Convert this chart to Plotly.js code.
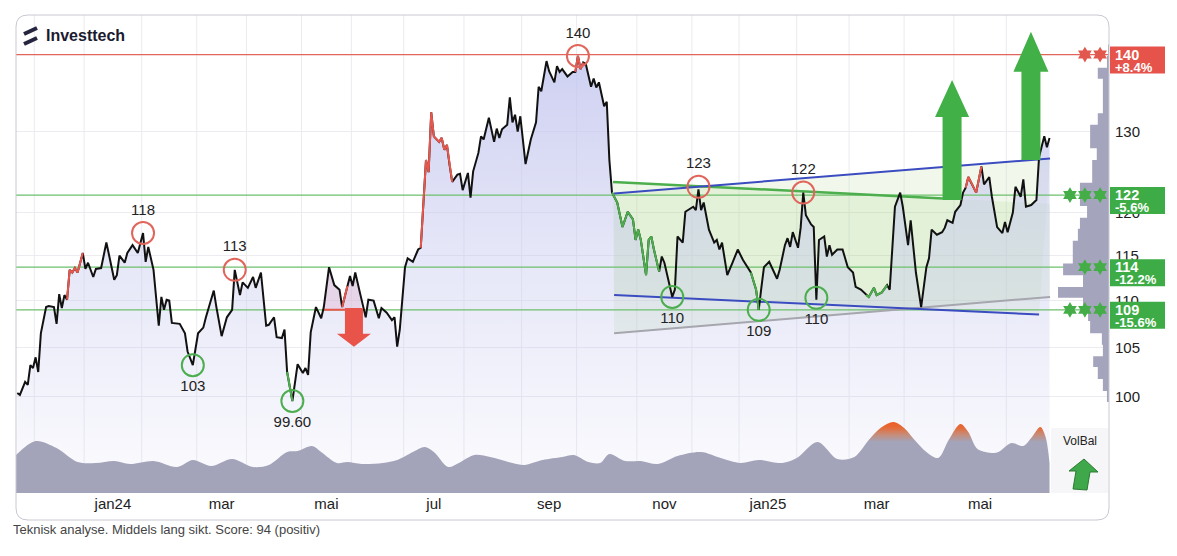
<!DOCTYPE html>
<html><head><meta charset="utf-8">
<script src="https://cdn.plot.ly/plotly-3.0.1.min.js"></script>
<style>html,body{margin:0;padding:0;background:#fff;}#chart{width:1177px;height:556px;}</style>
</head><body><div id="chart"></div>
<script>
// ---------- DATA (x = trading days since 30 Nov 2023) ----------
const priceDay = [
 -6,-5,-3,-2,-1,0,1,2,3,5, 6,8,9,10,11,12,13,14,15,16, 17,19,20,21,23,24,26,28,29,31,
 32,33,35,36,38,40,42,43,44,46, 48,49,50,51,52,53,56,58,59,61, 63,65,66,69,70,72,74,76,77,79,
 80,82,84,85,87,89,90,92,93,95, 96,97,99,100,101,103,104,105,106,108, 110,111,113,115,117,118,120,121,122,123,
 125,127,128,130,132,133,135,137,138,139, 140,142,143,145,147,148,150,151,152,153, 155,156,157,158,159,160,162,163,164,166,
 167,168,170,171,172,174,176,177,178,179, 181,182,183,184,185,186,188,190,192,193, 194,196,197,199,200,201,202,204,206,207,
 208,209,210,211,213,214,215,216,218,219, 220,221,223,225,227,229,230,231,232,234, 235,236,237,239,240,241,244,245,246,248,
 249,250,252,253,254,255,256,258,260,261, 262,263,265,267,269,271,274,276,277,278, 279,281,282,284,285,287,288,289,290,292,
 293,294,295,297,298,299,300,302,303,304, 305,307,309,311,313,314,316,318,319,321, 322,324,326,327,329,331,332,334,335,337,
 339,341,342,343,345,347,348,349,351,352, 354,355,356,357,358,360,362,363,365,366, 368,370,371,372,374,375,377,378,379,381,
 383,384,386,387,388];
const priceVal = [
 100.4,100.2,101.5,101.2,103.2,102.9,104.0,102.5,106.5,109.3, 109.4,109.3,107.5,110.7,109.2,110.6,110.1,113.4,113.1,113.6, 113.1,115.3,113.5,114.2,112.6,113.5,113.6,116.5,115.1,112.3,
 112.8,115.0,114.2,115.3,116.2,115.3,117.6,114.3,116.0,113.4, 107.3,110.4,109.0,110.1,110.0,107.6,107.5,106.5,104.6,103.2, 106.5,107.1,108.2,111.1,109.3,106.2,108.2,109.0,113.4,110.6,
 112.0,111.4,112.6,111.4,113.1,107.3,107.4,108.2,106.1,106.0, 106.9,102.5,99.6,101.5,103.3,102.4,102.9,102.2,106.6,109.3, 108.1,109.3,113.7,111.7,111.2,109.3,111.6,112.7,111.6,113.1,
 110.6,108.2,110.1,110.0,108.1,109.2,108.7,107.9,108.2,105.1, 106.9,113.7,114.7,114.3,115.7,115.9,126.4,124.9,132.5,129.4, 128.7,129.2,127.7,128.3,125.8,123.7,124.6,124.7,122.7,124.8,
 121.8,125.0,127.3,129.4,129.0,131.8,128.7,130.4,129.2,130.3, 130.9,134.5,131.2,132.2,130.0,132.0,125.9,129.0,131.2,135.9, 135.3,139.4,138.0,136.5,138.7,137.9,138.3,137.3,137.9,137.9,
 140.1,138.3,139.2,139.0,135.9,137.0,135.8,136.5,133.3,133.9, 126.4,122.4,121.2,118.3,120.1,119.2,116.8,118.0,116.8,112.8, 116.8,117.2,115.7,113.2,114.9,114.2,110.4,111.2,117.2,116.5,
 120.1,120.3,120.7,120.3,122.8,120.3,121.2,118.0,116.5,116.8, 115.7,116.5,112.8,114.2,115.7,114.5,113.1,111.2,109.0,111.4, 113.7,114.3,113.6,112.4,113.4,116.2,117.0,116.0,117.7,115.9,
 118.2,122.4,119.7,118.6,118.3,110.1,116.8,117.2,114.9,116.2, 115.1,115.7,115.7,113.7,113.1,111.5,111.2,110.6,110.4,111.4, 110.6,110.9,111.7,111.2,120.7,122.4,120.7,116.2,119.1,113.1,
 109.3,113.7,114.7,118.0,117.4,117.7,118.2,119.1,118.8,120.1, 120.9,122.4,123.0,124.3,123.7,122.4,125.6,123.4,124.3,121.9, 118.3,117.6,118.9,117.7,120.0,123.1,121.9,124.0,120.7,120.9,
 121.5,126.8,129.4,128.0,129.2];

// signal colouring of the price line (day ranges)
const redSegFrom = [13,118,148,207,356];
const redSegTo   = [19,120,160,210,362];
const greenSegFrom = [97,221,274,318];
const greenSegTo   = [99,239,277,326];

// tops and bottoms
const peakDay = [42,77,208,254,294];
const peakVal = [117.6,113.4,140.1,123.1,122.4];
const peakTxt = ['118','113','140','123','122'];
const troughDay = [61,99,244,277,299];
const troughVal = [103.2,99.6,110.4,109.0,110.3];
const troughTxt = ['103','99.60','110','109','110'];

// support / resistance
const levelVal = [140.3,122.1,113.7,109.0];
const levelTxt = ['140','122','114','109'];
const levelPct = ['+8.4%','-5.6%','-12.2%','-15.6%'];
const levelStars = [2,3,2,3];
const levelKind = ['res','sup','sup','sup'];

// trend lines [start, end]
const upperBlueDay = [221.8,388.2], upperBlueVal = [122.3,126.6];
const lowerBlueDay = [221.8,384.0], lowerBlueVal = [110.6,108.5];
const greenLineDay = [221.4,347.3], greenLineVal = [123.7,121.7];
const grayLineDay  = [221.8,388.2], grayLineVal  = [106.5,110.4];

// breakdown signal
const breakFrom = 110.7, breakTo = 125.6, breakLevel = 109.0;

// target arrows
const arrowDay  = [122.5,350.8,380.9];
const arrowFrom = [109.2,121.5,126.4];
const arrowTo   = [105.1,136.8,143.5];

// volume balance
const volDay = [-6.5,1,9,17,24,31,37,46,55,61, 68,76,84,90,97,101,106.5,110,116,120, 125.5,133.5,139,145,149.5,153,158.5,162.5,168.5,174.5,
 183,187.5,194.5,202,206.5,212,216.5,220,226,232, 238.5,246,255,262.5,270,277,286,291.5,299.5,307, 313.5,319,323.5,328.5,332.5,336.5,341,345.5,349.5,354,
 357,360.5,366.5,368.5,373.5,378,381,384.5,386.5,388];
const volVal = [38,52,45,31,30,32,29,32,26,33, 27,34,26,28,41,42,47,41,30,31, 29,30,33,41,46,41,26,30,38,36,
 30,28,33,36,38,31,30,39,32,32, 29,37,41,35,30,33,30,35,51,34, 36,53,65,71,65,53,41,35,53,69,
 61,44,40,41,50,47,55,66,56,30];

// volume profile (price bin edges and relative volume)
const vpEdges = [99.5,100.6,101.8,103.0,104.1,105.3,106.5,107.8,109.0,110.3,111.5,112.8,114.1,115.4,116.7,118.1,
 119.4,120.8,122.2,123.6,125.0,126.4,127.9,129.4,130.9,132.4,133.9,135.4,137.0,138.5,140.1,141.7];
const vpVol = [4,12,22,31,12,14,37,41,51,100,51,90,71,71,61,57,43,57,57,33,33,24,37,37,22,12,12,12,22,4,2];

// axis labels
const monthBound = [0.5,19.5,41.5,62.5,81.5,102.5,121.5,141.5,164.5,186.5,207.5,230.5,251.5,269.5,291.5,311.5,332.5,351.5,371.5];
const monthLabel = ['','jan24','','mar','','mai','','jul','','sep','','nov','','jan25','','mar','','mai'];
const yTicks = [100,105,110,115,120,130];

// ---------- LAYOUT GEOMETRY ----------
const ML = 16, MT = 15, PW = 1093, PH = 478;
const xRange = [-6.49, 410.7];
const yRange = [1.95877, 2.16405];
const dPerPx = (xRange[1]-xRange[0])/PW;
const lPerPx = (yRange[1]-yRange[0])/PH;
const floorVal = Math.pow(10, yRange[0]);
const FONT = 'Liberation Sans, Arial, sans-serif';
const px = x => (x-ML)/PW;
function pyp(y){ return (MT+PH-y)/PH; }
const ylog = v => Math.log10(v);
const yPaper = v => (Math.log10(v)-yRange[0])/(yRange[1]-yRange[0]);

const tickvals = [], ticktext = [];
monthLabel.forEach((t,i)=>{ if(t){ tickvals.push((monthBound[i]+monthBound[i+1])/2); ticktext.push(t);} });

const idxIn = (a,b) => priceDay.map((d,i)=>i).filter(i=>priceDay[i]>=a && priceDay[i]<=b);
const traces = [];
const base = {mode:'lines', hoverinfo:'skip', showlegend:false};
function logInterp(d0,d1,v0,v1,d){ const t=(d-d0)/(d1-d0); return Math.pow(10, Math.log10(v0)+t*(Math.log10(v1)-Math.log10(v0))); }

// channel fills (under the price area)
traces.push(Object.assign({}, base, {x:[upperBlueDay[0],upperBlueDay[1],lowerBlueDay[1],lowerBlueDay[0]],
  y:[upperBlueVal[0],upperBlueVal[1],lowerBlueVal[1],lowerBlueVal[0]], fill:'toself', fillcolor:'rgba(172,214,138,0.17)', line:{width:0}}));
(function(){
  const gEnd = grayLineDay[1];
  const gTop = logInterp(greenLineDay[0],greenLineDay[1],greenLineVal[0],greenLineVal[1],gEnd);
  traces.push(Object.assign({}, base, {x:[greenLineDay[0],greenLineDay[1],gEnd,gEnd,grayLineDay[0]],
    y:[greenLineVal[0],greenLineVal[1],gTop,grayLineVal[1],grayLineVal[0]], fill:'toself', fillcolor:'rgba(172,214,138,0.2)', line:{width:0}}));
})();

// price area fill
traces.push(Object.assign({}, base, {x:priceDay, y:priceDay.map(()=>floorVal), line:{width:0}}));
traces.push(Object.assign({}, base, {x:priceDay, y:priceVal, line:{width:0}, fill:'tonexty',
  fillcolor:'rgba(196,199,238,0.35)',
  fillgradient:{type:'vertical', colorscale:[[0,'rgba(198,200,238,0.06)'],[0.2,'rgba(198,200,238,0.2)'],[0.55,'rgba(198,200,238,0.45)'],[1,'rgba(192,195,238,0.78)']]}}));

// pink breakdown area
const pk = idxIn(breakFrom, breakTo);
traces.push(Object.assign({}, base, {x:pk.map(i=>priceDay[i]), y:pk.map(()=>breakLevel), line:{width:0}}));
traces.push(Object.assign({}, base, {x:pk.map(i=>priceDay[i]), y:pk.map(i=>priceVal[i]), line:{width:0}, fill:'tonexty', fillcolor:'rgba(226,168,196,0.33)'}));

// level lines
levelVal.forEach((v,i)=>{
  traces.push(Object.assign({}, base, {x:[xRange[0],xRange[1]], y:[v,v], line:{width:1.2, color: levelKind[i]==='res'?'#e2655c':'#6cbf6c'}}));
});

// volume profile
(function(){
  const xR = xRange[1], k = 51*dPerPx/100;
  const vx=[xR], vy=[vpEdges[0]];
  vpVol.forEach((v,i)=>{ vx.push(xR-v*k, xR-v*k); vy.push(vpEdges[i], vpEdges[i+1]); });
  vx.push(xR); vy.push(vpEdges[vpEdges.length-1]);
  traces.push(Object.assign({}, base, {x:vx, y:vy, fill:'toself', fillcolor:'#a4a4bc', line:{width:0}}));
})();

// trend lines
traces.push(Object.assign({}, base, {x:grayLineDay, y:grayLineVal, line:{width:2, color:'#a6a6ae'}}));
traces.push(Object.assign({}, base, {x:greenLineDay, y:greenLineVal, line:{width:2.5, color:'#4cae4c'}}));
traces.push(Object.assign({}, base, {x:upperBlueDay, y:upperBlueVal, line:{width:2, color:'#3b4cc0'}}));
traces.push(Object.assign({}, base, {x:lowerBlueDay, y:lowerBlueVal, line:{width:2, color:'#3b4cc0'}}));

// breakdown line
traces.push(Object.assign({}, base, {x:[breakFrom,breakTo], y:[breakLevel,breakLevel], line:{width:2, color:'#e8574c'}}));

// price line
traces.push(Object.assign({}, base, {x:priceDay, y:priceVal, line:{width:2, color:'#111'}}));
redSegFrom.forEach((a,j)=>{ const ii=idxIn(a,redSegTo[j]);
  traces.push(Object.assign({}, base, {x:ii.map(i=>priceDay[i]), y:ii.map(i=>priceVal[i]), line:{width:2, color:'#e8574c'}})); });
greenSegFrom.forEach((a,j)=>{ const ii=idxIn(a,greenSegTo[j]);
  traces.push(Object.assign({}, base, {x:ii.map(i=>priceDay[i]), y:ii.map(i=>priceVal[i]), line:{width:2, color:'#4cae4c'}})); });

// arrows
function arrow(d, from, to, bodyHalf, headHalf, headLen, color){
  const dir = to>from?1:-1;
  const hb = Math.pow(10, Math.log10(to) - dir*headLen*lPerPx);
  const bw = bodyHalf*dPerPx, hw = headHalf*dPerPx;
  traces.push(Object.assign({}, base, {x:[d-bw,d-bw,d-hw,d,d+hw,d+bw,d+bw,d-bw], y:[from,hb,hb,to,hb,hb,from,from],
    fill:'toself', fillcolor:color, line:{width:0}}));
}
arrow(arrowDay[0], arrowFrom[0], arrowTo[0], 9, 17, 13, '#e8534a');
arrow(arrowDay[1], arrowFrom[1], arrowTo[1], 9.5, 17, 37, '#41b047');
arrow(arrowDay[2], arrowFrom[2], arrowTo[2], 9.5, 17.5, 40, '#41b047');

// tops / bottoms
traces.push({x:peakDay, y:peakVal, text:peakTxt, mode:'markers+text', textposition:'top center', cliponaxis:false,
  marker:{symbol:'circle-open', size:22, color:'#e0665c', line:{width:2}}, textfont:{size:15, color:'#222', family:FONT}, hoverinfo:'skip', showlegend:false});
traces.push({x:troughDay, y:troughVal, text:troughTxt, mode:'markers+text', textposition:'bottom center', cliponaxis:false,
  marker:{symbol:'circle-open', size:22, color:'#4cae4f', line:{width:2}}, textfont:{size:15, color:'#222', family:FONT}, hoverinfo:'skip', showlegend:false});

// strength stars
const starPos = [407.3, 401.5, 395.8];
levelVal.forEach((v,i)=>{
  const xs = starPos.slice(0, levelStars[i]);
  traces.push({x:xs, y:xs.map(()=>v), mode:'markers', marker:{symbol:'hexagram', size:12, color: levelKind[i]==='res'?'#e2574e':'#45ad47'}, hoverinfo:'skip', showlegend:false});
});

// volume balance
traces.push({x:volDay, y:volVal, yaxis:'y3', mode:'lines', line:{width:0, shape:'spline', smoothing:0.9}, fill:'tozeroy',
  fillcolor:'#a3a4b9',
  fillgradient:{type:'vertical', colorscale:[[0,'#a3a4b9'],[0.72,'#a3a4b9'],[0.83,'#c98a74'],[0.92,'#e56b38'],[1,'#ee5c24']]},
  hoverinfo:'skip', showlegend:false});

// ---------- SHAPES / ANNOTATIONS ----------
const shapes = [];
monthBound.forEach(b=>shapes.push({type:'line', xref:'x', yref:'paper', x0:b, x1:b, y0:0, y1:1, layer:'below', line:{color:'#ebebf0', width:1}}));
shapes.push({type:'rect', xref:'paper', yref:'paper', x0:px(1051), x1:px(1108), y0:0, y1:pyp(428), fillcolor:'#f6f6f8', line:{width:0}, layer:'below'});
levelVal.forEach((v,i)=>{
  const yp = yPaper(v);
  shapes.push({type:'rect', xref:'paper', yref:'paper', x0:px(1110), x1:px(1165), y0:yp-19/PH, y1:yp+8/PH,
    fillcolor: levelKind[i]==='res'?'#e5534b':'#3dac46', line:{width:0}, layer:'above'});
});
(function(){
  const x0=px(16), x1=px(1109), yt=pyp(15), yb=pyp(520), rx=12/PW, ry=12/PH;
  shapes.push({type:'path', xref:'paper', yref:'paper', layer:'above', line:{color:'#c8c8d2', width:1},
    path:`M ${x0+rx},${yt} L ${x1-rx},${yt} Q ${x1},${yt} ${x1},${yt-ry} L ${x1},${yb+ry} Q ${x1},${yb} ${x1-rx},${yb} L ${x0+rx},${yb} Q ${x0},${yb} ${x0},${yb+ry} L ${x0},${yt-ry} Q ${x0},${yt} ${x0+rx},${yt} Z`});
})();
(function(){
  const pts = [[1084,459],[1098,472],[1090,472],[1087,490],[1073,489],[1076,471],[1069,471]];
  shapes.push({type:'path', xref:'paper', yref:'paper', layer:'above', fillcolor:'#3ea84a', line:{color:'#2b7a33', width:1},
    path:'M '+pts.map(p=>px(p[0])+','+pyp(p[1])).join(' L ')+' Z'});
})();
shapes.push({type:'line', xref:'paper', yref:'paper', x0:px(24), y0:pyp(34), x1:px(37), y1:pyp(28), line:{color:'#25253f', width:4}, layer:'above'});
shapes.push({type:'line', xref:'paper', yref:'paper', x0:px(24), y0:pyp(44), x1:px(37), y1:pyp(38), line:{color:'#25253f', width:4}, layer:'above'});

const annotations = [];
levelVal.forEach((v,i)=>{
  annotations.push({xref:'paper', yref:'y', x:px(1113), y:ylog(v), xanchor:'left', yanchor:'middle', yshift:0, showarrow:false,
    text:'<b>'+levelTxt[i]+'</b>', font:{size:14.5, color:'#fff', family:FONT}});
  annotations.push({xref:'paper', yref:'y', x:px(1113), y:ylog(v), xanchor:'left', yanchor:'middle', yshift:-12.5, showarrow:false,
    text:'<b>'+levelPct[i]+'</b>', font:{size:13, color:'#fff', family:FONT}});
});
annotations.push({xref:'paper', yref:'paper', x:px(44), y:pyp(36), xanchor:'left', yanchor:'middle', showarrow:false,
  text:'<b>Investtech</b>', font:{size:16, color:'#1b1b30', family:FONT}});
annotations.push({xref:'paper', yref:'paper', x:px(1080), y:pyp(441), xanchor:'center', yanchor:'middle', showarrow:false,
  text:'VolBal', font:{size:12, color:'#222', family:FONT}});
annotations.push({xref:'paper', yref:'paper', x:px(11), y:pyp(529), xanchor:'left', yanchor:'middle', showarrow:false,
  text:'Teknisk analyse. Middels lang sikt. Score: 94 (positiv)', font:{size:13, color:'#444', family:FONT}});

const layout = {
  width:1177, height:556, margin:{l:ML, r:1177-ML-PW, t:MT, b:556-MT-PH},
  paper_bgcolor:'#fff', plot_bgcolor:'rgba(0,0,0,0)', showlegend:false, hovermode:false,
  font:{family:FONT, color:'#222'},
  xaxis:{range:xRange, tickvals:tickvals, ticktext:ticktext, showgrid:false, zeroline:false, showline:false, ticks:'',
    tickfont:{size:15, color:'#222'}, fixedrange:true},
  yaxis:{type:'log', range:yRange, side:'right', tickvals:yTicks, ticktext:yTicks.map(String), showgrid:true, gridcolor:'#ebebf0',
    zeroline:false, showline:false, ticks:'', ticklabelstandoff:5, tickfont:{size:15, color:'#222'}, fixedrange:true},
  yaxis3:{domain:[0,0.25], range:[0,119.5], visible:false, anchor:'x', fixedrange:true},
  shapes:shapes, annotations:annotations
};
Plotly.newPlot('chart', traces, layout, {staticPlot:true, displayModeBar:false});
</script>
</body></html>
